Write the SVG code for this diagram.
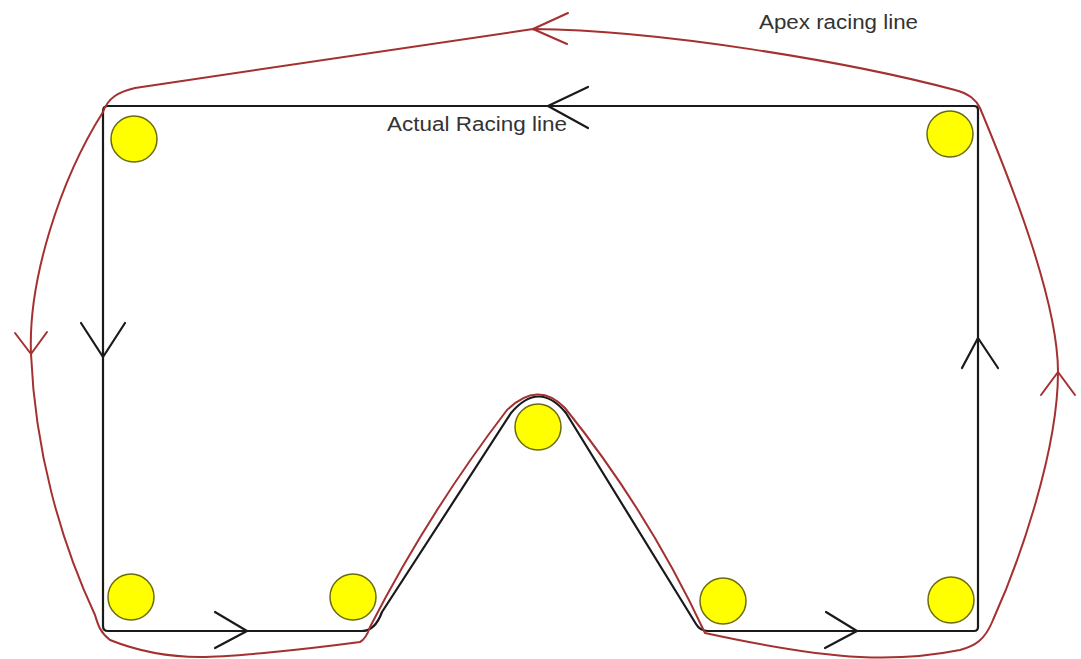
<svg xmlns="http://www.w3.org/2000/svg" width="1081" height="659" viewBox="0 0 1081 659">
<style>
.blk{fill:none;stroke:#1a1a1a;stroke-width:2.2;stroke-linejoin:round;stroke-linecap:round}
.red{fill:none;stroke:#a53030;stroke-width:2;stroke-linejoin:round;stroke-linecap:round}
.cone{fill:#ffff00;stroke:#6b6b10;stroke-width:1.5}
.lbl{font-family:'Liberation Sans',Arial,sans-serif;font-size:20px;fill:#333}
</style>
<rect width="1081" height="659" fill="#ffffff"/>
<g id="connectors">
<path id="actual-line" class="blk" d="M 108 106 L 974 106 Q 978 106 978 110 L 978 627 Q 978 631 974 631 L 708 631 Q 700 631 696 624 L 566 413 Q 539 380 511 413 L 382 612 Q 375 631 362 631 L 108 631 Q 103 631 103 626 L 103 111 Q 103 106 108 106 Z"/>
<path id="apex-line" class="red" d="M 103 112 C 108 98 118 92 135 88 L 533 29 C 660 30 850 62 955 90 C 970 94 976 100 980 108 C 1010 180 1058 300 1058 372 C 1058 450 1020 560 993 620 C 985 640 975 646 960 650 C 920 658 880 658 860 657 C 820 655 760 645 705 633 Q 648 511 565 408 Q 538 380 507 410 Q 429 512 370 627 C 367 636 364 640 360 642 C 300 650 230 657 200 657 C 170 657 140 652 110 640 C 100 632 98 625 95 615 C 60 540 35 450 31 354 C 28 280 60 180 103 112 Z"/>
<g id="black-arrows" class="blk">
<polyline points="588,87 548,106 588,128"/>
<polyline points="81,323 103,357 125,323"/>
<polyline points="962,368 978,338 998,368"/>
<polyline points="215,612 247,631 215,648"/>
<polyline points="826,612 857,631 825,648"/>
</g>
<g id="red-arrows" class="red">
<polyline points="568,13 533,29 567,44"/>
<polyline points="15,333 31,354 47,332"/>
<polyline points="1041,395 1058,372 1075,395"/>
</g>
</g>
<g id="cone-1"><circle class="cone" cx="134" cy="139" r="23"/></g>
<g id="cone-2"><circle class="cone" cx="950" cy="134" r="23"/></g>
<g id="cone-3"><circle class="cone" cx="131" cy="597" r="23"/></g>
<g id="cone-4"><circle class="cone" cx="353" cy="597" r="23"/></g>
<g id="cone-5"><circle class="cone" cx="538" cy="427" r="23"/></g>
<g id="cone-6"><circle class="cone" cx="723" cy="601" r="23"/></g>
<g id="cone-7"><circle class="cone" cx="951" cy="600" r="23"/></g>
<g id="labels">
<text class="lbl" x="759" y="29" textLength="159" lengthAdjust="spacingAndGlyphs">Apex racing line</text>
<text class="lbl" x="387" y="131" textLength="180" lengthAdjust="spacingAndGlyphs">Actual Racing line</text>
</g>
</svg>
